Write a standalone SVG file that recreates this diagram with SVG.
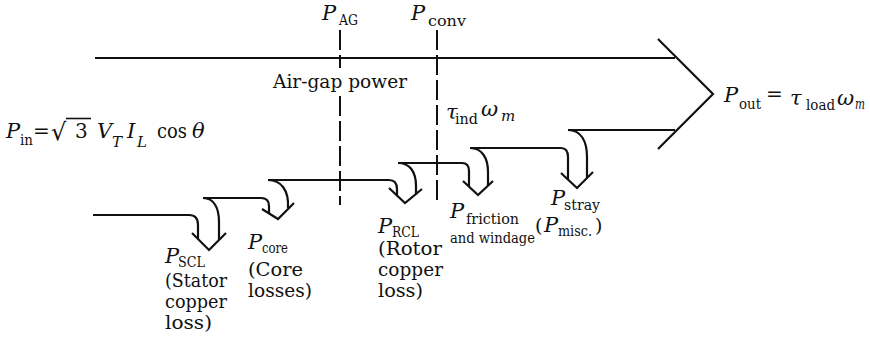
<svg xmlns="http://www.w3.org/2000/svg" width="870" height="346" viewBox="0 0 870 346">
<style>
.ln{fill:none;stroke:#111;stroke-width:2.2;stroke-linecap:butt;stroke-linejoin:miter}
.dash{fill:none;stroke:#111;stroke-width:2;stroke-dasharray:20 5}
text{font-family:"DejaVu Serif","Liberation Serif",serif;fill:#111}
.P{font-style:italic;font-size:21px}
.sub{font-size:15px;font-style:normal}
.isub{font-style:italic;font-size:15px}
.lbl{font-size:19px}
.eq{font-size:20px}
</style>
<rect width="870" height="346" fill="#fff"/>
<g id="connectors">
  <path class="ln" d="M95 58 H675"/>
  <path class="ln" d="M658 39 L713 94 L658 149"/>
  <path class="ln" d="M568 130 H675"/>
  <path class="ln" d="M93 215 H189 Q198 215 198 225 V239"/>
  <path class="ln" d="M203 198 C214 198 219 208 219 222 V240"/>
  <path class="ln" d="M192 233 L209 250 L226 233"/>
  <path class="ln" d="M203 198 H261 Q269 198 269 206 V213"/>
  <path class="ln" d="M268 180 C281 180 289 190 288 208"/>
  <path class="ln" d="M262 209 L278 219 L294 203"/>
  <path class="ln" d="M268 180 H389 Q397 180 397 189 V196"/>
  <path class="ln" d="M398 163 C410 163 416 172 416 186 V195"/>
  <path class="ln" d="M389 188 L405 203 L422 189"/>
  <path class="ln" d="M398 163 H462 Q469 163 469 171 V187"/>
  <path class="ln" d="M470 148 C482 148 488 158 488 172 V186"/>
  <path class="ln" d="M463 181 L478 195 L493 181"/>
  <path class="ln" d="M470 148 H561 Q568 148 568 157 V180"/>
  <path class="ln" d="M568 130 C581 130 587 141 587 157 V178"/>
  <path class="ln" d="M561 173 L577 188 L593 172"/>
  <path class="dash" d="M340 30 V68 M340 96 V205"/>
  <path class="dash" d="M437 30 V205"/>
</g>
<g id="pin">
  <text y="138"><tspan x="6" class="P">P</tspan><tspan x="20" y="145" class="sub" textLength="13" lengthAdjust="spacingAndGlyphs">in</tspan></text>
  <text x="33" y="138" class="eq">=</text>
  <text x="51" y="140" font-size="24">√</text>
  <line x1="66" y1="118.5" x2="91" y2="118.5" stroke="#111" stroke-width="1.6"/>
  <text x="75" y="138" class="eq">3</text>
  <text y="138"><tspan x="97" class="P">V</tspan><tspan x="112" y="147" class="isub">T</tspan></text>
  <text y="138"><tspan x="127" class="P">I</tspan><tspan x="137" y="147" class="isub">L</tspan></text>
  <text x="157" y="138" class="eq" textLength="30" lengthAdjust="spacingAndGlyphs">cos</text>
  <text x="192" y="138" class="P" font-size="19">θ</text>
</g>
<g id="pag">
  <text y="20"><tspan x="322" class="P">P</tspan><tspan x="339" y="25" class="sub" textLength="19" lengthAdjust="spacingAndGlyphs">AG</tspan></text>
</g>
<g id="pconv">
  <text y="20"><tspan x="411" class="P">P</tspan><tspan x="428" y="26" class="sub" textLength="38" lengthAdjust="spacingAndGlyphs">conv</tspan></text>
</g>
<g id="airgap">
  <text x="273" y="88" font-size="19" textLength="134" lengthAdjust="spacingAndGlyphs">Air-gap power</text>
</g>
<g id="tau">
  <text y="119"><tspan x="446" class="P">τ</tspan><tspan x="455" y="124" class="sub" textLength="23" lengthAdjust="spacingAndGlyphs">ind</tspan></text>
  <text y="116"><tspan x="481" class="P">ω</tspan><tspan x="501" y="121" class="isub">m</tspan></text>
</g>
<g id="pout">
  <text y="102"><tspan x="724" class="P">P</tspan><tspan x="739" y="109" class="sub" textLength="22" lengthAdjust="spacingAndGlyphs">out</tspan></text>
  <text x="766" y="101" class="eq">=</text>
  <text y="105"><tspan x="790" class="P">τ</tspan><tspan x="806" y="110" class="sub" textLength="29" lengthAdjust="spacingAndGlyphs">load</tspan></text>
  <text y="105"><tspan x="837" class="P">ω</tspan><tspan x="855" y="109" class="isub" font-size="13" textLength="10" lengthAdjust="spacingAndGlyphs">m</tspan></text>
</g>
<g id="scl">
  <text y="263"><tspan x="165" class="P">P</tspan><tspan x="178" y="267" class="sub" font-size="14" textLength="27" lengthAdjust="spacingAndGlyphs">SCL</tspan></text>
  <text x="165" y="287" class="lbl" textLength="62" lengthAdjust="spacingAndGlyphs">(Stator</text>
  <text x="165" y="308" class="lbl" textLength="62" lengthAdjust="spacingAndGlyphs">copper</text>
  <text x="165" y="329" class="lbl" textLength="47" lengthAdjust="spacingAndGlyphs">loss)</text>
</g>
<g id="core">
  <text y="249"><tspan x="248" class="P">P</tspan><tspan x="262" y="253" class="sub" font-size="14" textLength="26" lengthAdjust="spacingAndGlyphs">core</tspan></text>
  <text x="248" y="276" class="lbl" textLength="55" lengthAdjust="spacingAndGlyphs">(Core</text>
  <text x="248" y="297" class="lbl" textLength="64" lengthAdjust="spacingAndGlyphs">losses)</text>
</g>
<g id="rcl">
  <text y="233"><tspan x="378" class="P">P</tspan><tspan x="392" y="237" class="sub" font-size="14" textLength="27" lengthAdjust="spacingAndGlyphs">RCL</tspan></text>
  <text x="378" y="255" class="lbl" textLength="64" lengthAdjust="spacingAndGlyphs">(Rotor</text>
  <text x="378" y="276" class="lbl" textLength="65" lengthAdjust="spacingAndGlyphs">copper</text>
  <text x="378" y="297" class="lbl" textLength="45" lengthAdjust="spacingAndGlyphs">loss)</text>
</g>
<g id="friction">
  <text y="218"><tspan x="450" class="P">P</tspan><tspan x="466" y="224" class="sub" textLength="53" lengthAdjust="spacingAndGlyphs">friction</tspan></text>
  <text x="450" y="243" class="sub" textLength="85" lengthAdjust="spacingAndGlyphs">and windage</text>
</g>
<g id="stray">
  <text y="205"><tspan x="551" class="P">P</tspan><tspan x="564" y="210" class="sub" textLength="36" lengthAdjust="spacingAndGlyphs">stray</tspan></text>
  <text y="232"><tspan x="535" class="lbl">(</tspan><tspan x="544" class="P">P</tspan><tspan x="558" y="236" class="sub" textLength="34" lengthAdjust="spacingAndGlyphs">misc.</tspan><tspan x="595" y="232" class="lbl">)</tspan></text>
</g>
</svg>
